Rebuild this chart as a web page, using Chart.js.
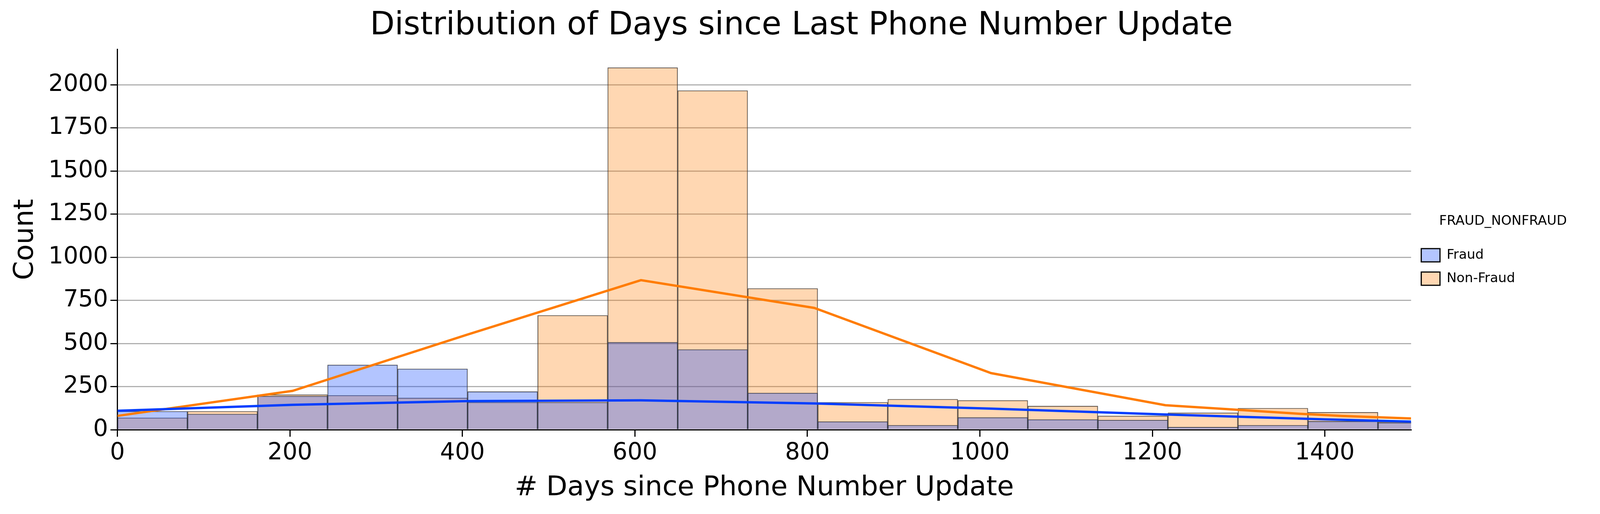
<!DOCTYPE html>
<html>
<head>
<meta charset="utf-8">
<script src="https://cdn.jsdelivr.net/npm/chart.js@4.4.1/dist/chart.umd.min.js"></script>
<style>
  html, body { margin: 0; padding: 0; background: #fff; }
  #wrap { width: 4123px; height: 1317px; position: relative; }
</style>
</head>
<body>
<div id="wrap"><canvas id="chart"></canvas></div>
<script>
// ── Data ──
const binCenters = [40.6, 121.8, 203, 284.2, 365.4, 446.6, 527.8, 609, 690.2, 771.4,
  852.6, 933.8, 1015, 1096.2, 1177.4, 1258.6, 1339.8, 1421, 1502.2];
const fraudCounts = [107, 91, 195, 376, 353, 221, 159, 507, 465, 213,
  47, 26, 71, 59, 56, 15, 26, 49, 41];
const nonFraudCounts = [69, 107, 203, 199, 184, 159, 663, 2099, 1966, 819,
  159, 177, 170, 137, 80, 98, 125, 101, 46];

const kdeX_fraud = [0, 203, 405, 607, 808, 1013, 1215, 1300, 1400, 1500];
const kdeY_fraud = [110, 144, 166, 170, 152, 122, 88, 75, 60, 47];
const kdeX_nonfraud = [0, 203, 405, 607, 808, 1013, 1215, 1290, 1371, 1420, 1500];
const kdeY_nonfraud = [80, 225, 550, 867, 706, 328, 142, 118, 92, 80, 65];

const xTicks = [0, 200, 400, 600, 800, 1000, 1200, 1400];

Chart.defaults.font.family = 'DejaVu Sans';
Chart.defaults.color = '#000';

const toXY = (xs, ys) => xs.map((x, i) => ({ x, y: ys[i] }));

new Chart(document.getElementById('chart'), {
  type: 'bar',
  data: {
    datasets: [{
      label: 'Fraud',
      data: toXY(binCenters, fraudCounts),
      backgroundColor: 'rgba(2,62,255,0.3)',
      borderColor: 'rgba(60,60,60,0.85)',
      borderWidth: 1.5,
      barPercentage: 1, categoryPercentage: 1, grouped: false,
      order: 1,
    }, {
      label: 'Non-Fraud',
      data: toXY(binCenters, nonFraudCounts),
      backgroundColor: 'rgba(255,124,0,0.3)',
      borderColor: 'rgba(60,60,60,0.85)',
      borderWidth: 1.5,
      barPercentage: 1, categoryPercentage: 1, grouped: false,
      order: 2,
    }, {
      type: 'line',
      label: 'kde_fraud',
      data: toXY(kdeX_fraud, kdeY_fraud),
      borderColor: '#023eff', borderWidth: 6, pointRadius: 0, fill: false,
      order: 0,
    }, {
      type: 'line',
      label: 'kde_nonfraud',
      data: toXY(kdeX_nonfraud, kdeY_nonfraud),
      borderColor: '#ff7c00', borderWidth: 6, pointRadius: 0, fill: false,
      order: 0,
    }],
  },
  options: {
    responsive: true,
    maintainAspectRatio: false,
    animation: false,
    layout: { padding: { left: 20, right: 40, top: 10, bottom: 20 } },
    plugins: {
      title: {
        display: true,
        text: 'Distribution of Days since Last Phone Number Update',
        font: { size: 82, weight: 'normal' },
        padding: { top: 8, bottom: 10 },
      },
      tooltip: { enabled: false },
      legend: {
        position: 'right',
        title: { display: true, text: 'FRAUD_NONFRAUD', font: { size: 34 }, padding: { top: 0, bottom: 20 } },
        labels: {
          font: { size: 34 },
          boxWidth: 48, boxHeight: 34, padding: 26,
          filter: (item) => item.datasetIndex < 2,
          generateLabels: (chart) => chart.data.datasets.map((ds, i) => ({
            text: ds.label + '                  ',
            fillStyle: ds.backgroundColor,
            strokeStyle: '#000',
            lineWidth: 3,
            datasetIndex: i,
            hidden: false,
          })),
        },
      },
    },
    scales: {
      x: {
        type: 'linear',
        min: 0, max: 1500,
        offset: false,
        afterBuildTicks: (axis) => { axis.ticks = xTicks.map(v => ({ value: v })); },
        grid: { offset: false, drawOnChartArea: false, color: '#000', lineWidth: 3, tickLength: 18 },
        border: { color: '#000', width: 3 },
        ticks: { font: { size: 60 }, padding: 6, maxRotation: 0, callback: (v) => String(v) },
        title: { display: true, text: '# Days since Phone Number Update', font: { size: 70 }, padding: { top: 6 } },
      },
      y: {
        min: 0, max: 2205,
        afterBuildTicks: (axis) => {
          const t = [];
          for (let v = 0; v <= 2000; v += 250) t.push({ value: v });
          axis.ticks = t;
        },
        grid: { color: '#b0b0b0', lineWidth: 3, tickColor: '#000', tickLength: 18 },
        border: { color: '#000', width: 3 },
        ticks: { font: { size: 60 }, padding: 6, callback: (v) => String(v) },
        title: { display: true, text: 'Count', font: { size: 70 }, padding: { bottom: 10 } },
      },
    },
  },
});
</script>
</body>
</html>
